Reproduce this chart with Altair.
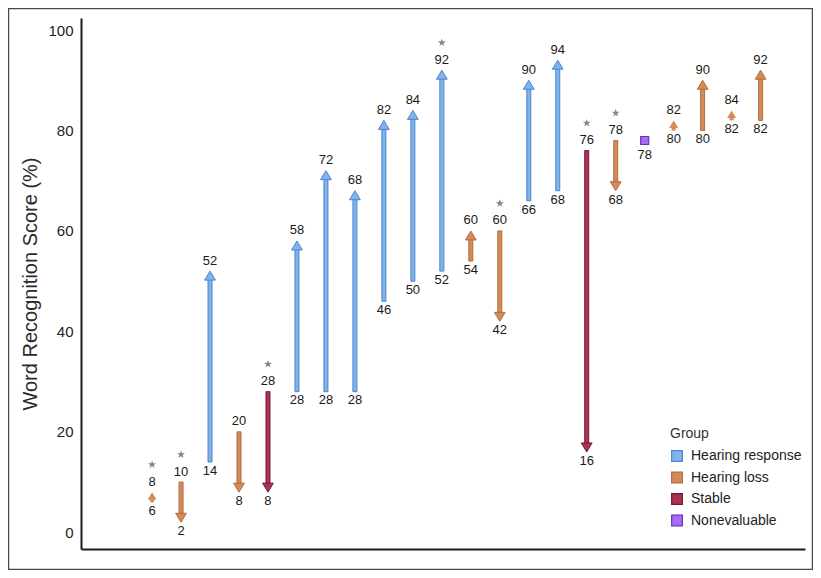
import altair as alt
import pandas as pd

# ---- data ----
patient = list(range(1, 23))
baseline = [6, 10, 14, 20, 28, 28, 28, 28, 46, 50, 52, 54, 60, 66, 68, 76, 78, 78, 80, 80, 82, 82]
followup = [8, 2, 52, 8, 8, 58, 72, 68, 82, 84, 92, 60, 42, 90, 94, 16, 68, 78, 82, 90, 84, 92]
group = ["Hearing loss", "Hearing loss", "Hearing response", "Hearing loss", "Stable",
         "Hearing response", "Hearing response", "Hearing response", "Hearing response",
         "Hearing response", "Hearing response", "Hearing loss", "Hearing loss",
         "Hearing response", "Hearing response", "Stable", "Hearing loss", "Nonevaluable",
         "Hearing loss", "Hearing loss", "Hearing loss", "Hearing loss"]
starred = [1, 1, 0, 0, 1, 0, 0, 0, 0, 0, 1, 0, 1, 0, 0, 1, 1, 0, 0, 0, 0, 0]

groups = ["Hearing response", "Hearing loss", "Stable", "Nonevaluable"]
fills = ["#80b3ea", "#d28b5a", "#a83452", "#a86cf4"]
strokes = ["#4a84cf", "#b36c3c", "#7a1733", "#6b2fbf"]
y_ticks = [0, 20, 40, 60, 80, 100]

df = pd.DataFrame({"patient": patient, "start": baseline, "end": followup,
                   "group": group, "star": starred})

FONT = "Liberation Sans"
UP = "M0,0L0.6,1L-0.6,1Z"
DOWN = "M0,0L0.6,-1L-0.6,-1Z"
STAR = ("M0,-1L0.235,-0.324L0.951,-0.309L0.38,0.124L0.588,0.809L0,0.4"
        "L-0.588,0.809L-0.38,0.124L-0.951,-0.309L-0.235,-0.324Z")

legend = alt.Legend(title="Group", orient="none", legendX=589, legendY=409,
                    symbolType="square", symbolSize=115, symbolStrokeWidth=1.2,
                    titleFont=FONT, titleFontSize=14, titleFontWeight="normal",
                    titleColor="#333333", labelFont=FONT, labelFontSize=14,
                    labelColor="#222222", rowPadding=5.5, titlePadding=8,
                    labelOffset=7, padding=0)

x_enc = alt.X("patient:Q",
              scale=alt.Scale(domain=[-1.28, 23.36], nice=False, zero=False),
              axis=alt.Axis(labels=False, ticks=False, title=None, grid=False,
                            domainColor="#1a1a1a", domainWidth=2))
y_scale = alt.Scale(domain=[-3.32, 102.39], nice=False, zero=False)
y_axis = alt.Axis(values=y_ticks, ticks=False, tickSize=0, grid=False,
                  domainColor="#1a1a1a", domainWidth=2,
                  labelFont=FONT, labelFontSize=15, labelColor="#222222",
                  labelPadding=8, title="Word Recognition Score (%)",
                  titleFont=FONT, titleFontSize=20, titleFontWeight="normal",
                  titleColor="#2a2a2a", titleAngle=270, titleX=-45, titleY=265.5,
                  titleAlign="center", titleBaseline="alphabetic")
fill_enc = alt.Fill("group:N", scale=alt.Scale(domain=groups, range=fills), legend=legend)
stroke_enc = alt.Stroke("group:N", scale=alt.Scale(domain=groups, range=strokes), legend=legend)

base = alt.Chart(df).transform_calculate(
    hi="max(datum.start, datum.end)",
    lo="min(datum.start, datum.end)",
    sgn="datum.end >= datum.start ? 1 : -1",
    dir="datum.end >= datum.start ? 'up' : 'down'",
    small="abs(datum.end - datum.start) <= 2 ? 'small' : 'normal'",
)
base = base.transform_calculate(
    shaft_end="datum.end - datum.sgn * (datum.small == 'small' ? 1.2 : 1.6)"
)

arrows = base.transform_filter("datum.group != 'Nonevaluable'")

shafts = arrows.mark_bar(size=4).encode(
    x=x_enc,
    y=alt.Y("start:Q", scale=y_scale, axis=y_axis),
    y2="shaft_end:Q",
    fill=fill_enc,
    stroke=stroke_enc,
    strokeWidth=alt.condition("datum.small == 'small'", alt.value(0), alt.value(1)),
)

heads = arrows.mark_point(filled=True, opacity=1).encode(
    x=x_enc,
    y=alt.Y("end:Q", scale=y_scale),
    fill=fill_enc,
    stroke=stroke_enc,
    strokeWidth=alt.condition("datum.small == 'small'", alt.value(0), alt.value(1)),
    shape=alt.Shape("dir:N", scale=alt.Scale(domain=["up", "down"], range=[UP, DOWN]), legend=None),
    size=alt.Size("small:N", scale=alt.Scale(domain=["small", "normal"], range=[225, 324]), legend=None),
)

square = base.transform_filter("datum.group == 'Nonevaluable'").mark_point(
    filled=True, shape="square", size=64, strokeWidth=1.2, opacity=1
).encode(
    x=x_enc, y=alt.Y("end:Q", scale=y_scale), fill=fill_enc, stroke=stroke_enc
)

top_labels = arrows.mark_text(font=FONT, fontSize=13, color="#1a1a1a",
                              baseline="middle", dy=-10.5).encode(
    x=x_enc, y=alt.Y("hi:Q", scale=y_scale), text="hi:Q")

bottom_labels = arrows.mark_text(font=FONT, fontSize=13, color="#1a1a1a",
                                 baseline="middle", dy=8.8).encode(
    x=x_enc, y=alt.Y("lo:Q", scale=y_scale), text="lo:Q")

ne_label = base.transform_filter("datum.group == 'Nonevaluable'").mark_text(
    font=FONT, fontSize=13, color="#1a1a1a", baseline="middle", dy=14).encode(
    x=x_enc, y=alt.Y("lo:Q", scale=y_scale), text="lo:Q")

stars = base.transform_filter("datum.star == 1").mark_point(
    filled=True, shape=STAR, size=70, color="#7b8a8a", opacity=1, yOffset=-27.5
).encode(x=x_enc, y=alt.Y("hi:Q", scale=y_scale))

frame = alt.Chart(pd.DataFrame({"f": [0]})).mark_rect(
    filled=False, stroke="#4a4a4a", strokeWidth=1.5
).encode(x=alt.value(-72.5), x2=alt.value(731.5), y=alt.value(-9.5), y2=alt.value(551.5))

chart = alt.layer(frame, shafts, heads, square, top_labels, bottom_labels, ne_label, stars).properties(
    width=724, height=531,
    autosize=alt.AutoSizeParams(type="none"),
    padding={"left": 73, "top": 10, "right": 8, "bottom": 21},
    background="white",
).configure_view(stroke=None)

chart.save("out.html", embed_options={"renderer": "svg", "actions": False})
